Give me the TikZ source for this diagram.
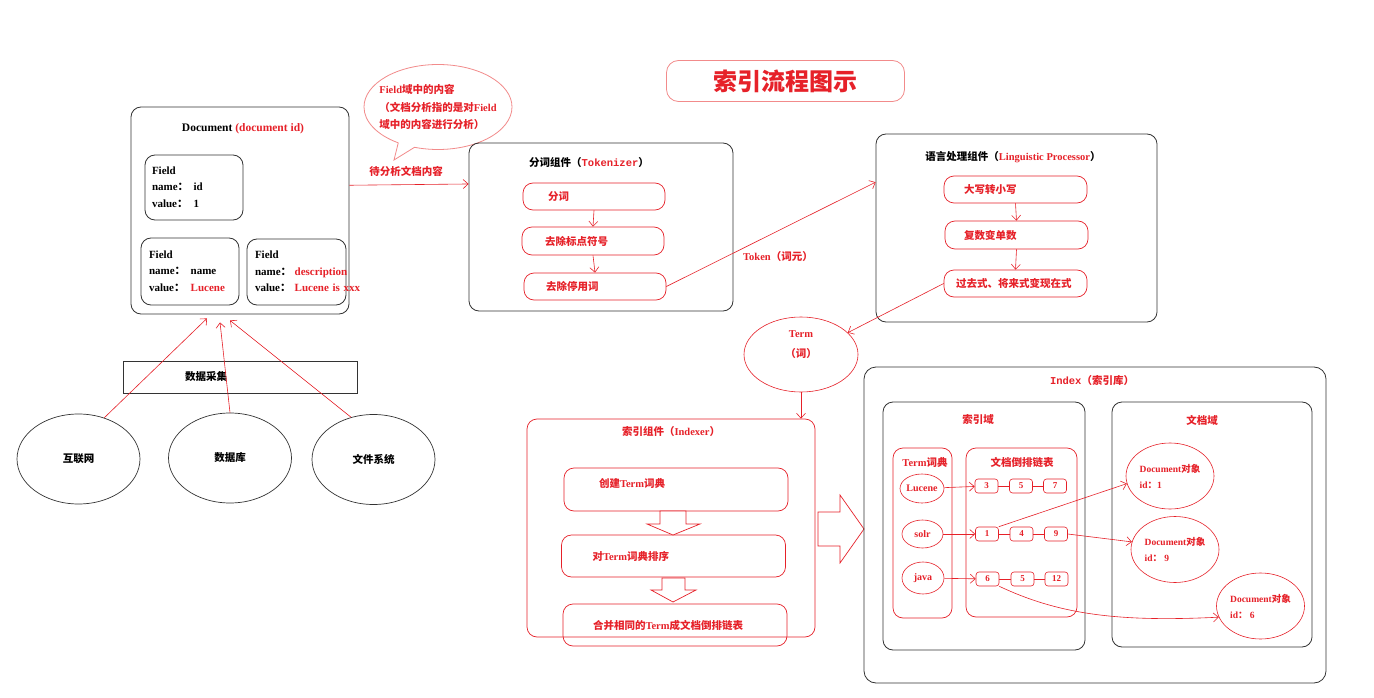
\documentclass[tikz,border=0pt]{standalone}
\usepackage{fontspec}
\setmainfont{Liberation Serif}
\newfontfamily\cjk{Noto Sans CJK SC}
\newfontfamily\monofam{Liberation Mono}
\usetikzlibrary{arrows.meta,shapes.geometric,shapes.callouts}
\definecolor{IdxRed}{HTML}{E62129}
\definecolor{IdxPink}{HTML}{F28B8B}
\definecolor{BoxGray}{HTML}{333333}
\newcommand{\zh}[1]{{\cjk #1}}

\begin{document}
\begin{tikzpicture}[x=1pt,y=-1pt,
  every node/.style={inner sep=0pt, font=\fontsize{10.5}{13}\selectfont\bfseries},
  blackbox/.style={draw=BoxGray, line width=0.8pt, rounded corners=10pt},
  redbox/.style={draw=IdxRed, line width=0.7pt, rounded corners=10pt},
  stepbox/.style={redbox, text=IdxRed, align=left, minimum height=27pt},
  fieldbox/.style={blackbox, align=left, inner xsep=7pt, text width=84pt, font=\fontsize{11}{16.5}\selectfont\bfseries},
  srcnode/.style={ellipse, draw=BoxGray, line width=0.7pt, minimum width=123pt, minimum height=90pt},
  linkbox/.style={draw=IdxRed, line width=0.6pt, rounded corners=3pt, minimum width=23pt, minimum height=14pt, text=IdxRed, font=\fontsize{9}{10}\selectfont\bfseries},
  termnode/.style={ellipse, draw=IdxRed, line width=0.6pt, text=IdxRed, font=\fontsize{10}{12}\selectfont\bfseries},
  docobj/.style={ellipse, draw=IdxRed, line width=0.6pt, text=IdxRed, align=left, minimum width=88pt, minimum height=66pt, font=\fontsize{9.5}{16}\selectfont\bfseries},
  redarrow/.style={draw=IdxRed, line width=0.6pt, -{Straight Barb[length=5pt,width=9pt]}},
  redline/.style={draw=IdxRed, line width=0.6pt},
  blockarrow/.style={draw=IdxRed, line width=0.7pt, fill=white, line join=miter},
]
\path[use as bounding box, fill=white] (0,0) rectangle (1374,698);

% title
\node[draw=IdxPink, line width=0.8pt, rounded corners=12pt, minimum width=238pt, minimum height=41pt, text=IdxRed, font=\fontsize{24}{26}\selectfont\bfseries\cjk] (title) at (785.5,81) {索引流程图示};

% document and its fields
\node[blackbox, minimum width=218pt, minimum height=207pt] (doc) at (240,210.5) {};
\node[font=\fontsize{11.5}{14}\selectfont\bfseries] (doctitle) at (243,129) {Document \textcolor{IdxRed}{(document id)}};
\node[fieldbox, minimum height=65pt] (fid) at (194,187.5) {\begin{tabular}{@{}l@{\hspace{5pt}}l@{}}Field & \\ name\zh{：} & id\\ value\zh{：} & 1\end{tabular}};
\node[fieldbox, minimum height=67pt, inner xsep=8pt, text width=82pt] (fname) at (190,271.5) {\begin{tabular}{@{}l@{\hspace{5pt}}l@{}}Field & \\ name\zh{：} & name\\ value\zh{：} & \textcolor{IdxRed}{Lucene}\end{tabular}};
\node[fieldbox, minimum height=66pt, inner xsep=8pt, text width=83pt] (fdesc) at (296.5,272) {\begin{tabular}{@{}l@{\hspace{3pt}}l@{}}Field & \\ name\zh{：} & \textcolor{IdxRed}{description}\\ value\zh{：} & \textcolor{IdxRed}{Lucene is xxx}\end{tabular}};

% data sources
\node[draw=BoxGray, line width=0.8pt, minimum width=234pt, minimum height=32pt, align=left, inner xsep=62pt, text width=110pt] (collect) at (240,377) {\zh{数据采集}};
\node[srcnode] (net) at (78.5,459) {\zh{互联网}};
\node[srcnode] (db) at (230,458) {\zh{数据库}};
\node[srcnode] (fs) at (373.5,459.5) {\zh{文件系统}};
\draw[redarrow] (net.58) -- ([xshift=-33pt,yshift=-4pt]doc.south);
\draw[redarrow] (db.north) -- ([xshift=-20pt,yshift=-8pt]doc.south);
\draw[redarrow] (fs.118) -- ([xshift=-10pt,yshift=-6pt]doc.south);

% callout
\node[ellipse callout, draw=IdxPink, line width=0.8pt, minimum width=148pt, minimum height=85pt, inner xsep=-10pt, inner ysep=6pt, callout absolute pointer={(394,160)}, callout pointer arc=14, text=IdxRed, align=left, font=\fontsize{10.5}{17.5}\selectfont\bfseries] (bubble) at (438,107) {Field\zh{域中的内容}\\\zh{（文档分析指的是对}Field\\\zh{域中的内容进行分析）}};

% tokenizer
\node[blackbox, minimum width=264pt, minimum height=168pt] (tok) at (601,227) {};
\node (toktitle) at (589,163) {\zh{分词组件（}\textcolor{IdxRed}{\monofam Tokenizer}\zh{）}};
\node[stepbox, inner xsep=25pt, text width=92pt] (t1) at (594,196.5) {\zh{分词}};
\node[stepbox, minimum height=28pt, inner xsep=23pt, text width=96pt] (t2) at (593,241) {\zh{去除标点符号}};
\node[stepbox, inner xsep=22pt, text width=98pt] (t3) at (595,286.5) {\zh{去除停用词}};
\draw[redarrow] (t1.south) -- (t2.north);
\draw[redarrow] (t2.south) -- (t3.north);
\draw[redarrow] (doc.13) -- (tok.162);
\node[text=IdxRed] (doclbl) at (406,171) {\zh{待分析文档内容}};

% linguistic processor
\node[blackbox, minimum width=281pt, minimum height=188pt] (ling) at (1016.5,228) {};
\node (lingtitle) at (1013,157) {\zh{语言处理组件（}\textcolor{IdxRed}{Linguistic Processor}\zh{）}};
\node[stepbox, inner xsep=20pt, text width=103pt] (l1) at (1015.5,189.5) {\zh{大写转小写}};
\node[stepbox, minimum height=28pt, inner xsep=19pt, text width=105pt] (l2) at (1016.5,235) {\zh{复数变单数}};
\node[stepbox, inner xsep=12pt, text width=119pt] (l3) at (1015.5,283.5) {\zh{过去式、将来式变现在式}};
\draw[redarrow] (l1.south) -- (l2.north);
\draw[redarrow] (l2.south) -- (l3.north);
\draw[redarrow] (t3.east) -- (ling.162);
\node[text=IdxRed] (toklbl) at (778,257) {Token\zh{（词元）}};

% term
\node[termnode, minimum width=114pt, minimum height=75pt, align=center, font=\fontsize{10.5}{20}\selectfont\bfseries] (term) at (801,354.5) {Term\\\zh{（词）}\\\mbox{}};
\draw[redarrow] (l3.west) -- (term.25);

% indexer
\node[redbox, minimum width=288pt, minimum height=218pt] (idxr) at (671,528) {};
\node[text=IdxRed] (idxrtitle) at (671,432) {\zh{索引组件（}Indexer\zh{）}};
\draw[redarrow] (term.south) -- (term.south |- idxr.north);
\node[stepbox, minimum width=224pt, minimum height=43pt, inner xsep=35pt, text width=154pt, text depth=14pt] (i1) at (676,489.5) {\zh{创建}Term\zh{词典}};
\node[stepbox, minimum height=42pt, inner xsep=31pt, text width=162pt] (i2) at (673.5,556) {\zh{对}Term\zh{词典排序}};
\node[stepbox, minimum height=42pt, inner xsep=30pt, text width=164pt] (i3) at (675,625) {\zh{合并相同的}Term\zh{成文档倒排链表}};
\draw[blockarrow] (660,511) -- (686,511) -- (686,524) -- (700,524) -- (673,535) -- (647,524) -- (660,524) -- cycle;
\draw[blockarrow] (662,578) -- (685,578) -- (685,590) -- (696,590) -- (673,602) -- (651,590) -- (662,590) -- cycle;
\draw[blockarrow] (818,512) -- (840,512) -- (840,495) -- (864,529) -- (840,563) -- (840,546) -- (818,546) -- cycle;

% index
\node[blackbox, rounded corners=12pt, minimum width=462pt, minimum height=316pt] (index) at (1095,525) {};
\node[text=IdxRed] (indextitle) at (1092,381) {{\monofam Index}\zh{（索引库）}};
\node[blackbox, minimum width=202pt, minimum height=248pt] (idxdom) at (984,526) {};
\node[text=IdxRed] (idxdomtitle) at (978,420) {\zh{索引域}};
\node[blackbox, minimum width=200pt, minimum height=245pt] (docdom) at (1212,524.5) {};
\node[text=IdxRed] (docdomtitle) at (1202,420) {\zh{文档域}};
\node[redbox, minimum width=59pt, minimum height=170pt] (dict) at (922.5,533) {};
\node[text=IdxRed] (dicttitle) at (925,462) {Term\zh{词典}};
\node[redbox, minimum width=111pt, minimum height=169pt] (post) at (1021.5,532.5) {};
\node[text=IdxRed] (posttitle) at (1022,462) {\zh{文档倒排链表}};

\node[termnode, minimum width=40pt, minimum height=29pt] (lucene) at (922,488.5) {Lucene};
\node[termnode, minimum width=41pt, minimum height=28pt] (solr) at (922.5,534) {solr};
\node[termnode, minimum width=42pt, minimum height=32pt] (java) at (923,578) {java};

\node[linkbox] (a3) at (986.5,486) {3};
\node[linkbox] (a5) at (1021,486) {5};
\node[linkbox] (a7) at (1055,486) {7};
\node[linkbox] (b1) at (987,534) {1};
\node[linkbox] (b4) at (1021.5,534) {4};
\node[linkbox] (b9) at (1056,534) {9};
\node[linkbox] (c6) at (987.5,579) {6};
\node[linkbox] (c5) at (1022.5,579) {5};
\node[linkbox] (c12) at (1056.5,579) {12};
\draw[redline] (a3) -- (a5) (a5) -- (a7);
\draw[redline] (b1) -- (b4) (b4) -- (b9);
\draw[redline] (c6) -- (c5) (c5) -- (c12);

\node[docobj] (d1) at (1170,476) {Document\zh{对象}\\id\zh{：}1};
\node[docobj] (d2) at (1175,549.5) {Document\zh{对象}\\id\zh{：} 9};
\node[docobj] (d3) at (1260.5,606) {Document\zh{对象}\\id\zh{：} 6};

\draw[redarrow] (lucene) -- (a3);
\draw[redarrow] (solr) -- (b1);
\draw[redarrow] (java) -- (c6);
\draw[redarrow] (b1.north east) -- (d1.190);
\draw[redarrow] (b9.east) -- (d2.170);
\draw[redarrow] (c6.south east) .. controls (1060,615) and (1120,622) .. (d3.195);
\end{tikzpicture}
\end{document}
